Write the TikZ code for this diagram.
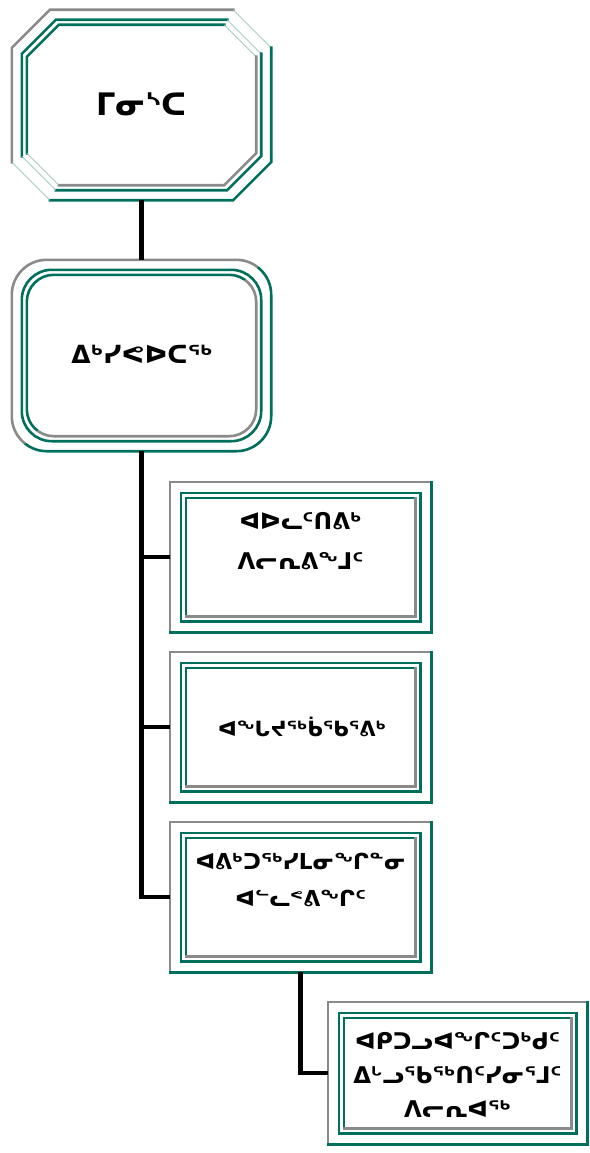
\documentclass[tikz,border=0pt]{standalone}
\usepackage{fontspec}
\newfontfamily\syl{DejaVu Sans Bold}
\usetikzlibrary{calc}
\definecolor{tgreen}{RGB}{0,112,92}
\definecolor{tgray}{RGB}{138,138,138}
\definecolor{tlight}{RGB}{150,196,186}
\tikzset{
  gyln/.style={draw=tgray,line width=2.6pt,line cap=rect},
  gnln/.style={draw=tgreen,line width=2.6pt,line cap=rect},
  thinln/.style={draw=tlight,line width=0.8pt},
  conn/.style={draw=black,line width=4.5pt},
  boxn/.style={draw=none,inner sep=0pt,minimum width=#1},
  lbl/.style={font=\syl\fontsize{23}{40}\selectfont,align=center,inner sep=0pt},
  biglbl/.style={font=\syl\fontsize{31}{32}\selectfont,align=center,inner sep=0pt}
}
\newcommand\rectring[4]{%
  \path ($(#1.north west)+(#2,#2)$) coordinate (p1) ($(#1.south east)+(-#2,-#2)$) coordinate (p2);
  \draw[#3] (p1 |- p2) -- (p1) -- (p2 |- p1);
  \draw[#4] (p2 |- p1) -- (p2) -- (p1 |- p2);
}
\newcommand\sqframe[1]{%
  \rectring{#1}{0}{gyln}{gnln}
  \rectring{#1}{11}{gnln}{gnln}
  \rectring{#1}{16}{gnln}{gyln}
}
\newcommand\octring[5]{%
  \path ($(#1.north west)+(#2,#2)$) coordinate (p1) ($(#1.south east)+(-#2,-#2)$) coordinate (p2);
  \draw[#4] ($(p1 |- p2)+(0,-#3)$) -- ($(p1)+(0,#3)$) -- ($(p1)+(#3,0)$) -- ($(p2 |- p1)+(-#3,0)$);
  \draw[thinln] ($(p2 |- p1)+(-#3,0)$) -- ($(p2 |- p1)+(0,#3)$);
  \draw[#5] ($(p2 |- p1)+(0,#3)$) -- ($(p2)+(0,-#3)$) -- ($(p2)+(-#3,0)$) -- ($(p1 |- p2)+(#3,0)$);
  \draw[thinln] ($(p1 |- p2)+(#3,0)$) -- ($(p1 |- p2)+(0,-#3)$);
}
\newcommand\rrring[5]{%
  \path ($(#1.north west)+(#2,#2)$) coordinate (p1) ($(#1.south east)+(-#2,-#2)$) coordinate (p2);
  \begin{scope}
    \clip ($(p1 |- p2)+(-10,10)$) -- ($(p2 |- p1)+(10,-10)$) -- ($(p1)+(-10,-10)$) -- cycle;
    \draw[#4,rounded corners=#3] (p1) rectangle (p2);
  \end{scope}
  \begin{scope}
    \clip ($(p1 |- p2)+(-10,10)$) -- ($(p2 |- p1)+(10,-10)$) -- ($(p2)+(10,10)$) -- cycle;
    \draw[#5,rounded corners=#3] (p1) rectangle (p2);
  \end{scope}
}
\begin{document}
\begin{tikzpicture}[x=1pt,y=-1pt]
\useasboundingbox[fill=white] (0,0) rectangle (589,1153);
% boxes (placeholders with exact outer size)
\node[boxn=259pt,minimum height=190pt] (b1) at (141.5,105) {};
\node[boxn=259pt,minimum height=191pt] (b2) at (141.5,355.5) {};
\node[boxn=261pt,minimum height=150pt] (b3) at (300.5,557) {};
\node[boxn=261pt,minimum height=150pt] (b4) at (300.5,727) {};
\node[boxn=261pt,minimum height=150pt] (b5) at (300.5,897) {};
\node[boxn=259pt,minimum height=142pt] (b6) at (457.5,1073) {};
% borders
\octring{b1}{0}{38}{gyln}{gnln}
\octring{b1}{10}{34}{gnln}{gnln}
\octring{b1}{15}{32}{gnln}{gyln}
\rrring{b2}{0}{35}{gyln}{gnln}
\rrring{b2}{10}{30}{gnln}{gnln}
\rrring{b2}{15}{27}{gnln}{gyln}
\sqframe{b3}
\sqframe{b4}
\sqframe{b5}
\sqframe{b6}
% connectors
\draw[conn] (b1.south) -- (b2.north);
\draw[conn] (b2.south) |- (b5.west);
\draw[conn] (b3.west) -- (b3.west -| b2.south);
\draw[conn] (b4.west) -- (b4.west -| b2.south);
\draw[conn] (b5.south) |- (b6.west);
% texts
\node[biglbl] (t1) at (141.5,104) {ᒥᓂᔅᑕ};
\node[biglbl,font=\syl\fontsize{25}{30}\selectfont] (t2) at (142,354) {ᐃᒃᓯᕙᐅᑕᖅ};
\node[lbl,anchor=north] (t3) at ($(b3.north)+(0,30)$) {ᐊᐅᓚᑦᑎᕕᒃ\\ᐱᓕᕆᕕᖕᒧᑦ};
\node[lbl,font=\syl\fontsize{21}{30}\selectfont] (t4) at (302,727) {ᐊᖓᔪᖅᑳᖃᕐᕕᒃ};
\node[lbl,anchor=north,font=\syl\fontsize{22}{37}\selectfont] (t5) at ($(b5.north)+(0,31)$) {ᐊᕕᒃᑐᖅᓯᒪᓂᖏᓐᓂ\\ᐊᓪᓚᕝᕕᖏᑦ};
\node[lbl,anchor=north,font=\syl\fontsize{23}{34}\selectfont] (t6) at ($(b6.north)+(0,30)$) {ᐊᑭᑐᓗᐊᖏᑦᑐᒃᑯᑦ\\ᐃᒡᓗᖃᖅᑎᑦᓯᓂᕐᒧᑦ\\ᐱᓕᕆᐊᖅ};
\end{tikzpicture}
\end{document}
